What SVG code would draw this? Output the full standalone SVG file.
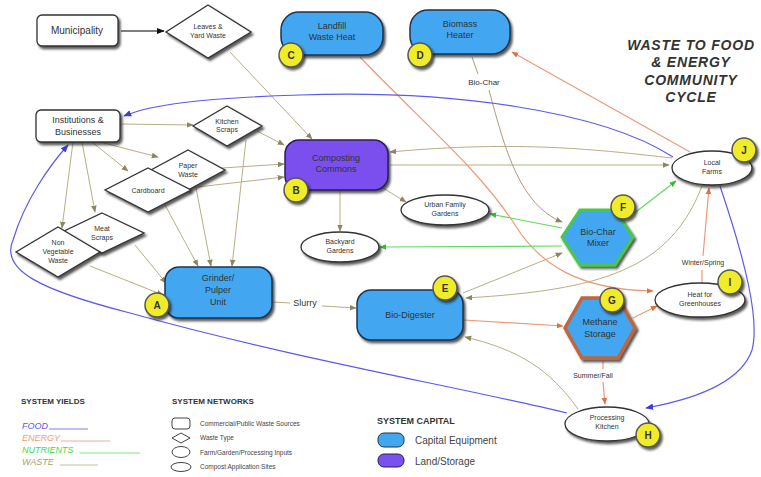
<svg xmlns="http://www.w3.org/2000/svg" width="761" height="477" viewBox="0 0 761 477">
<style>
.t{font-family:"Liberation Sans",Arial,sans-serif;fill:#333;text-anchor:middle}
.s7{font-size:7px}.s8{font-size:8px}.s9{font-size:9px}.s10{font-size:10px}
.box{fill:#fff;stroke:#333;stroke-width:1.3;filter:url(#sh)}
.blue{fill:#43a7f0;stroke:#1d3550;stroke-width:1.5;filter:url(#sh)}
.purple{fill:#7a50ee;stroke:#2a1f55;stroke-width:1.5;filter:url(#sh)}
.lab{fill:#f1ec2a;stroke:#555;stroke-width:1.5;filter:url(#sh)}
.lt{font-family:"Liberation Sans",Arial,sans-serif;font-size:10px;font-weight:bold;fill:#333;text-anchor:middle}
.w{fill:none;stroke:#b9ae86;stroke-width:1}
.e{fill:none;stroke:#ee9a78;stroke-width:1.2}
.n{fill:none;stroke:#5ddc5d;stroke-width:1.2}
.f{fill:none;stroke:#5a5aee;stroke-width:1.2}
.c{fill:none;stroke:#b3987c;stroke-width:1}
.hd{font-family:"Liberation Sans",Arial,sans-serif;font-size:8px;font-weight:bold;fill:#333}
.lg{font-family:"Liberation Sans",Arial,sans-serif;font-size:6.5px;fill:#444}
</style>
<defs>
<filter id="sh" x="-20%" y="-20%" width="150%" height="160%">
<feDropShadow dx="2" dy="2.5" stdDeviation="0.8" flood-color="#222" flood-opacity="0.75"/>
</filter>
<marker id="mw" viewBox="0 0 10 10" refX="9" refY="5" markerWidth="7" markerHeight="7" markerUnits="userSpaceOnUse" orient="auto"><path d="M0,1 L10,5 L0,9 z" fill="#8f8560"/></marker>
<marker id="me" viewBox="0 0 10 10" refX="9" refY="5" markerWidth="7" markerHeight="7" markerUnits="userSpaceOnUse" orient="auto"><path d="M0,1 L10,5 L0,9 z" fill="#e0704a"/></marker>
<marker id="mn" viewBox="0 0 10 10" refX="9" refY="5" markerWidth="7" markerHeight="7" markerUnits="userSpaceOnUse" orient="auto"><path d="M0,1 L10,5 L0,9 z" fill="#2fbf2f"/></marker>
<marker id="mf" viewBox="0 0 10 10" refX="9" refY="5" markerWidth="8" markerHeight="8" markerUnits="userSpaceOnUse" orient="auto"><path d="M0,1 L10,5 L0,9 z" fill="#3a3ae0"/></marker>
<marker id="mk" viewBox="0 0 10 10" refX="9" refY="5" markerWidth="8" markerHeight="8" markerUnits="userSpaceOnUse" orient="auto"><path d="M0,1 L10,5 L0,9 z" fill="#111"/></marker>
</defs>
<rect width="761" height="477" fill="#fff"/>

<g id="connectors">
<path d="M121,31 L164,31" fill="none" stroke="#555" stroke-width="1.3" marker-end="url(#mk)"/>
<path class="w" d="M230,52 L312,139" marker-end="url(#mw)"/>
<path class="w" d="M121,124 L193,125" marker-end="url(#mw)"/>
<path class="w" d="M100,142 L158,157" marker-end="url(#mw)"/>
<path class="w" d="M92,142 L128,171" marker-end="url(#mw)"/>
<path class="w" d="M82,142 L95,212" marker-end="url(#mw)"/>
<path class="w" d="M73,142 L62,228" marker-end="url(#mw)"/>
<path class="w" d="M257,131 L284,145" marker-end="url(#mw)"/>
<path class="w" d="M246,140 L232,266" marker-end="url(#mw)"/>
<path class="w" d="M222,168 L284,164" marker-end="url(#mw)"/>
<path class="w" d="M189,188 L284,177" marker-end="url(#mw)"/>
<path class="w" d="M196,188 L211,266" marker-end="url(#mw)"/>
<path class="w" d="M165,205 L198,266" marker-end="url(#mw)"/>
<path class="w" d="M135,245 L166,283" marker-end="url(#mw)"/>
<path class="w" d="M90,266 L163,295" marker-end="url(#mw)"/>
<path class="w" d="M383,188 L406,202" marker-end="url(#mw)"/>
<path class="w" d="M340,191 L340,231" marker-end="url(#mw)"/>
<path class="w" d="M273,302 L290,303"/>
<path class="w" d="M322,306 L356,308" marker-end="url(#mw)"/>
<path class="w" d="M672,158 C600,150 520,140 390,152" marker-end="url(#mw)"/>
<path class="w" d="M390,165 L669,165" marker-end="url(#mw)"/>
<path class="w" d="M702,186 C670,270 600,290 466,298" marker-end="url(#mw)"/>
<path class="w" d="M463,293 L562,253" marker-end="url(#mw)"/>
<path class="w" d="M578,409 C550,370 520,350 465,337" marker-end="url(#mw)"/>
<path class="c" d="M472,57 L478,74"/>
<path class="c" d="M489,90 C505,150 520,205 562,222" marker-end="url(#mw)"/>
<path class="e" d="M690,152 L512,52" marker-end="url(#me)"/>
<path class="e" d="M360,57 C420,120 480,170 515,225 C540,265 580,290 653,291" marker-end="url(#me)"/>
<path class="e" d="M464,320 L563,326" marker-end="url(#me)"/>
<path class="e" d="M633,318 L657,306" marker-end="url(#me)"/>
<path class="e" d="M603,361 L603,369"/>
<path class="e" d="M603,382 L605,404" marker-end="url(#me)"/>
<path class="e" d="M702,283 L702,270"/>
<path class="e" d="M703,256 L709,188" marker-end="url(#me)"/>
<path class="n" d="M628,218 L676,181" marker-end="url(#mn)"/>
<path class="n" d="M562,228 L490,214" marker-end="url(#mn)"/>
<path class="n" d="M562,246 L380,247" marker-end="url(#mn)"/>
<path class="f" d="M673,157 C600,110 450,90 300,95 C200,98 150,105 124,116" marker-end="url(#mf)"/>
<path class="f" d="M567,413 C450,385 300,360 130,313 C40,290 0,270 13,240 C25,200 50,165 68,145" marker-end="url(#mf)"/>
<path class="f" d="M720,186 C745,260 760,320 752,350 C740,385 690,400 646,408" marker-end="url(#mf)"/>
</g>

<g id="municipality"><rect class="box" x="37" y="15" width="81" height="31" rx="5"/><text class="t s10" x="77" y="34">Municipality</text></g>
<g id="leaves"><path class="box" d="M208,5 L251,32 L208,58 L166,32 z"/><text class="t s7" x="208" y="29">Leaves &amp;</text><text class="t s7" x="208" y="38">Yard Waste</text></g>
<g id="landfill"><rect class="blue" x="281" y="12" width="102" height="43" rx="18"/><text class="t s9" x="332" y="29">Landfill</text><text class="t s9" x="332" y="40">Waste Heat</text><circle class="lab" cx="291" cy="55" r="12"/><text class="lt" x="291" y="59">C</text></g>
<g id="biomass"><rect class="blue" x="410" y="10" width="100" height="44" rx="18"/><text class="t s9" x="460" y="27">Biomass</text><text class="t s9" x="460" y="38">Heater</text><circle class="lab" cx="420" cy="55" r="12"/><text class="lt" x="420" y="59">D</text></g>
<g id="title" font-family="Liberation Sans,Arial,sans-serif" font-size="14" font-weight="bold" font-style="italic" fill="#333" text-anchor="middle" letter-spacing="0.8"><text x="691" y="50">WASTE TO FOOD</text><text x="691" y="67">&amp; ENERGY</text><text x="691" y="85">COMMUNITY</text><text x="691" y="102">CYCLE</text></g>
<g id="institutions"><rect class="box" x="36" y="110" width="84" height="32" rx="5"/><text class="t s9" x="78" y="123">Institutions &amp;</text><text class="t s9" x="78" y="135">Businesses</text></g>
<g id="kitchen"><path class="box" d="M227,106 L262,126 L227,146 L193,126 z"/><text class="t s7" x="227" y="124">Kitchen</text><text class="t s7" x="227" y="132">Scraps</text></g>
<g id="composting"><rect class="purple" x="285" y="140" width="103" height="50" rx="14"/><text class="t s9" x="336" y="161">Composting</text><text class="t s9" x="336" y="172">Commons</text><circle class="lab" cx="296" cy="190" r="12"/><text class="lt" x="296" y="194">B</text></g>
<g id="paper"><path class="box" d="M188,150 L225,170 L188,190 L151,170 z"/><text class="t s7" x="188" y="168">Paper</text><text class="t s7" x="188" y="177">Waste</text></g>
<g id="cardboard"><path class="box" d="M148,168 L191,190 L148,212 L105,190 z"/><text class="t s7" x="148" y="193">Cardboard</text></g>
<g id="meat"><path class="box" d="M102,213 L144,233 L102,253 L60,233 z"/><text class="t s7" x="102" y="231">Meat</text><text class="t s7" x="102" y="240">Scraps</text></g>
<g id="nonveg"><path class="box" d="M58,227 L100,252 L58,277 L16,252 z"/><text class="t s7" x="58" y="245">Non</text><text class="t s7" x="58" y="254">Vegetable</text><text class="t s7" x="58" y="263">Waste</text></g>
<g id="grinder"><rect class="blue" x="165" y="267" width="107" height="51" rx="14"/><text class="t s9" x="218" y="281">Grinder/</text><text class="t s9" x="218" y="293">Pulper</text><text class="t s9" x="218" y="305">Unit</text><circle class="lab" cx="157" cy="305" r="12"/><text class="lt" x="157" y="309">A</text></g>
<g id="urban"><ellipse class="box" cx="445" cy="210" rx="44" ry="15"/><text class="t s7" x="445" y="207">Urban Family</text><text class="t s7" x="445" y="216">Gardens</text></g>
<g id="backyard"><ellipse class="box" cx="340" cy="247" rx="39" ry="15"/><text class="t s7" x="340" y="244">Backyard</text><text class="t s7" x="340" y="253">Gardens</text></g>
<g id="mixer"><path d="M562,237 L580,210 L615,210 L633,237 L615,265 L580,265 z" fill="#43a7f0" stroke="#48c848" stroke-width="3" filter="url(#sh)"/><text class="t s9" x="598" y="235">Bio-Char</text><text class="t s9" x="598" y="246">Mixer</text><circle class="lab" cx="623" cy="207" r="12"/><text class="lt" x="623" y="211">F</text></g>
<g id="farms"><ellipse class="box" cx="712" cy="168" rx="40" ry="17"/><text class="t s7" x="712" y="165">Local</text><text class="t s7" x="712" y="174">Farms</text><circle class="lab" cx="744" cy="150" r="12"/><text class="lt" x="744" y="154">J</text></g>
<text class="t s7" x="703" y="265">Winter/Spring</text>
<g id="greenhouses"><ellipse class="box" cx="700" cy="300" rx="45" ry="17"/><text class="t s7" x="700" y="297">Heat for</text><text class="t s7" x="700" y="306">Greenhouses</text><circle class="lab" cx="730" cy="282" r="12"/><text class="lt" x="730" y="286">I</text></g>
<g id="digester"><rect class="blue" x="357" y="290" width="106" height="50" rx="14"/><text class="t s9" x="410" y="318">Bio-Digester</text><circle class="lab" cx="445" cy="288" r="12"/><text class="lt" x="445" y="292">E</text></g>
<text class="t s9" x="305" y="306">Slurry</text>
<g id="methane"><path d="M565,328 L582,298 L618,298 L635,328 L618,358 L582,358 z" fill="#43a7f0" stroke="#c0663c" stroke-width="3.5" filter="url(#sh)"/><text class="t s9" x="600" y="325">Methane</text><text class="t s9" x="600" y="337">Storage</text><circle class="lab" cx="612" cy="300" r="12"/><text class="lt" x="612" y="304">G</text></g>
<text class="t s7" x="593" y="378">Summer/Fall</text>
<g id="processing"><ellipse class="box" cx="607" cy="424" rx="42" ry="17"/><text class="t s7" x="607" y="420">Processing</text><text class="t s7" x="607" y="429">Kitchen</text><circle class="lab" cx="648" cy="435" r="12"/><text class="lt" x="648" y="439">H</text></g>
<text class="t s8" x="484" y="85">Bio-Char</text>

<g id="legend-yields">
<text class="hd" x="21" y="404">SYSTEM YIELDS</text>
<text x="22" y="429" font-family="Liberation Sans,Arial,sans-serif" font-size="9" font-style="italic" fill="#5a5aee">FOOD</text>
<line x1="49" y1="429" x2="88" y2="429" stroke="#5a5aee" stroke-width="0.8"/>
<text x="22" y="441" font-family="Liberation Sans,Arial,sans-serif" font-size="9" font-style="italic" fill="#ee9a78">ENERGY</text>
<line x1="61" y1="441" x2="110" y2="441" stroke="#ee9a78" stroke-width="0.8"/>
<text x="22" y="453" font-family="Liberation Sans,Arial,sans-serif" font-size="9" font-style="italic" fill="#3ddc3d">NUTRIENTS</text>
<line x1="80" y1="453" x2="140" y2="453" stroke="#5ddc5d" stroke-width="0.8"/>
<text x="22" y="465" font-family="Liberation Sans,Arial,sans-serif" font-size="9" font-style="italic" fill="#a8a070">WASTE</text>
<line x1="60" y1="465" x2="98" y2="465" stroke="#b9ae86" stroke-width="0.8"/>
</g>
<g id="legend-networks">
<text class="hd" x="172" y="404">SYSTEM NETWORKS</text>
<rect x="172" y="418" width="18" height="11" rx="3" fill="#fff" stroke="#444" stroke-width="1"/>
<text class="lg" x="200" y="426">Commercial/Public Waste Sources</text>
<path d="M181,433 L190,438 L181,443 L172,438 z" fill="#fff" stroke="#444" stroke-width="1"/>
<text class="lg" x="200" y="440">Waste Type</text>
<ellipse cx="181" cy="452" rx="9" ry="5.5" fill="#fff" stroke="#444" stroke-width="1"/>
<text class="lg" x="200" y="455">Farm/Garden/Processing Inputs</text>
<ellipse cx="181" cy="467" rx="10" ry="4.5" fill="#fff" stroke="#444" stroke-width="1"/>
<text class="lg" x="200" y="469">Compost Application Sites</text>
</g>
<g id="legend-capital">
<text x="377" y="424" font-family="Liberation Sans,Arial,sans-serif" font-size="9" font-weight="bold" fill="#333">SYSTEM CAPITAL</text>
<rect x="378" y="433" width="26" height="14" rx="6" fill="#43a7f0" stroke="#1d3550" stroke-width="1"/>
<text x="415" y="444" font-family="Liberation Sans,Arial,sans-serif" font-size="10" fill="#444">Capital Equipment</text>
<rect x="378" y="454" width="26" height="13" rx="6" fill="#7a50ee" stroke="#2a1f55" stroke-width="1"/>
<text x="415" y="465" font-family="Liberation Sans,Arial,sans-serif" font-size="10" fill="#444">Land/Storage</text>
</g>
</svg>
